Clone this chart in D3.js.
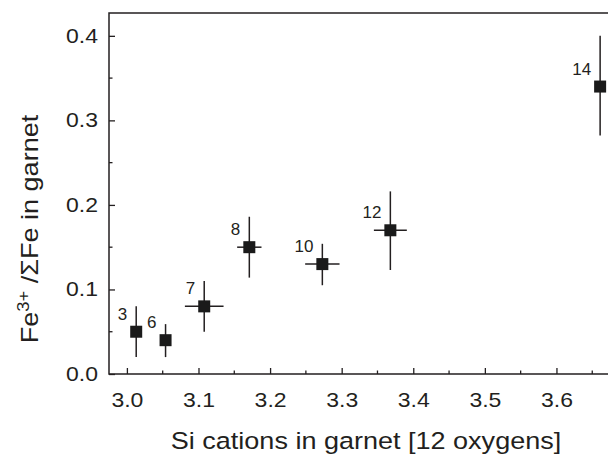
<!DOCTYPE html>
<html lang="en">
<head>
  <meta charset="UTF-8">
  <title>Fe3+ vs Si in garnet</title>
  <style>
    body { margin: 0; background: #fff; }
    text { font-family: "Liberation Sans", Arial, Helvetica, sans-serif; fill: #231f20; }
  </style>
</head>
<body>
  <svg id="svg" width="608" height="456"></svg>
  <script src="https://cdn.jsdelivr.net/npm/d3@7"></script>
  <script>
    // sample numbers and values
    const labels = ["3", "6", "7", "8", "10", "12", "14"]
    const si = [3.013, 3.054, 3.108, 3.171, 3.273, 3.368, 3.661]
    const siErr = [0, 0, 0.027, 0.017, 0.024, 0.023, 0]
    const fe = [0.05, 0.04, 0.08, 0.15, 0.13, 0.17, 0.34]
    const feLo = [0.02, 0.02, 0.05, 0.114, 0.105, 0.123, 0.282]
    const feHi = [0.08, 0.059, 0.11, 0.186, 0.154, 0.216, 0.40]

    const xTicks = [3.0, 3.1, 3.2, 3.3, 3.4, 3.5, 3.6]
    const yTicks = [0.0, 0.1, 0.2, 0.3, 0.4]

    const data = labels.map((l, i) => ({
      label: l, x: si[i], xe: siErr[i], y: fe[i], lo: feLo[i], hi: feHi[i]
    }))

    const svg = d3.select('#svg')
    const ink = '#231f20'
    const stretch = 1.15 // the original lettering is a bit wide

    const x = d3.scaleLinear().domain([2.975, 3.672]).range([109, 608])
    const y = d3.scaleLinear().domain([0, 0.427]).range([374, 13])

    // frame (right edge falls outside the picture)
    svg.append('path')
      .attr('d', `M${x.range()[1] + 5},${y.range()[1]}H${x.range()[0]}V${y.range()[0]}H${x.range()[1] + 5}`)
      .attr('fill', 'none')
      .attr('stroke', ink)
      .attr('stroke-width', 1.5)

    // x axis, ticks pointing inward
    const xAxis = svg.append('g')
      .attr('transform', `translate(0,${y.range()[0]})`)
      .call(d3.axisBottom(x).tickValues(xTicks).tickFormat(d3.format('.1f'))
        .tickSizeInner(-6).tickSizeOuter(0).tickPadding(19))
    xAxis.select('.domain').remove()
    xAxis.selectAll('.tick line').attr('stroke', ink).attr('stroke-width', 1.3)
    xAxis.selectAll('text').attr('font-size', 20).style('fill', ink)
      .attr('transform', `scale(${stretch},1)`)

    svg.append('g').selectAll('line')
      .data(xTicks.map(t => t + 0.05))
      .join('line')
      .attr('x1', d => x(d)).attr('x2', d => x(d))
      .attr('y1', y.range()[0]).attr('y2', y.range()[0] - 3.5)
      .attr('stroke', ink).attr('stroke-width', 1.3)

    // y axis
    const yAxis = svg.append('g')
      .attr('transform', `translate(${x.range()[0]},0)`)
      .call(d3.axisLeft(y).tickValues(yTicks).tickFormat(d3.format('.1f'))
        .tickSizeInner(-6).tickSizeOuter(0).tickPadding(11 / stretch))
    yAxis.select('.domain').remove()
    yAxis.selectAll('.tick line').attr('stroke', ink).attr('stroke-width', 1.3)
    yAxis.selectAll('text').attr('font-size', 20).style('fill', ink)
      .attr('transform', `scale(${stretch},1)`)

    svg.append('g').selectAll('line')
      .data(yTicks.map(t => t + 0.05).filter(d => d < y.domain()[1]))
      .join('line')
      .attr('x1', x.range()[0]).attr('x2', x.range()[0] + 3.5)
      .attr('y1', d => y(d)).attr('y2', d => y(d))
      .attr('stroke', ink).attr('stroke-width', 1.3)

    // axis titles
    svg.append('text')
      .attr('transform', `translate(366,449) scale(${stretch},1)`)
      .attr('text-anchor', 'middle')
      .attr('font-size', 23.5)
      .text('Si cations in garnet [12 oxygens]')

    const yt = svg.append('text')
      .attr('transform', `translate(38,229) rotate(-90) scale(${stretch},1)`)
      .attr('text-anchor', 'middle')
      .attr('font-size', 23.5)
    yt.append('tspan').text('Fe')
    yt.append('tspan').attr('font-size', 16).attr('dy', -9).text('3+')
    yt.append('tspan').attr('dy', 9).text(' /ΣFe in garnet')

    // error bars and points
    const pts = svg.append('g')
    pts.selectAll('.ey')
      .data(data)
      .join('line')
      .attr('x1', d => x(d.x)).attr('x2', d => x(d.x))
      .attr('y1', d => y(d.lo)).attr('y2', d => y(d.hi))
      .attr('stroke', ink).attr('stroke-width', 1.5)
    pts.selectAll('.ex')
      .data(data.filter(d => d.xe > 0))
      .join('line')
      .attr('x1', d => x(d.x - d.xe)).attr('x2', d => x(d.x + d.xe))
      .attr('y1', d => y(d.y)).attr('y2', d => y(d.y))
      .attr('stroke', ink).attr('stroke-width', 1.5)
    pts.selectAll('rect')
      .data(data)
      .join('rect')
      .attr('x', d => x(d.x) - 6).attr('y', d => y(d.y) - 6)
      .attr('width', 12).attr('height', 12)
      .attr('fill', '#1a1a1a')

    // sample numbers
    pts.selectAll('text')
      .data(data)
      .join('text')
      .attr('x', d => x(d.x) - 9)
      .attr('y', d => y(d.y) - 12)
      .attr('text-anchor', 'end')
      .attr('font-size', 17)
      .text(d => d.label)
  </script>
</body>
</html>
